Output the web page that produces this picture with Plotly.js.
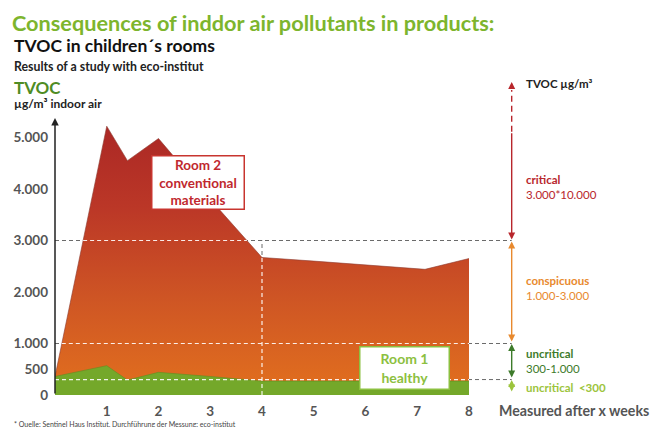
<!DOCTYPE html>
<html>
<head>
<meta charset="utf-8">
<script src="https://cdn.plot.ly/plotly-3.0.1.min.js"></script>
<style>html,body{margin:0;padding:0;background:#fff;}#chart{width:654px;height:427px;}</style>
</head>
<body>
<div id="chart"></div>
<script>
// ---- data ----
const weeks = [0, 1, 1.4, 2, 3, 4, 5, 6, 7.15, 8];
const room2 = [360, 5220, 4550, 4980, 3800, 2670, 2600, 2530, 2440, 2650];
const room1 = [360, 570, 290, 440, 360, 270, 270, 270, 270, 270];
const xTickVals = [1, 2, 3, 4, 5, 6, 7, 8];
const yTickVals = [0, 500, 1000, 2000, 3000, 4000, 5000];
const yTickText = ['0', '500', '1.000', '2.000', '3.000', '4.000', '5.000'];
const levels = [300, 1000, 3000];
const markWeek = 4;
const bandBounds = [0, 300, 1000, 3000, 6080];

// ---- layout constants ----
const W = 654, H = 427, L = 55, T = 75, B = 32;
const pxPerWeek = 51.75, pxPer1000 = 51.5;
const xMax = (W - L) / pxPerWeek;
const yMax = (H - B - T) / pxPer1000 * 1000;
const arrowX = 8.825, labelX = 9.06;
const FONT = 'Lato, sans-serif';

function interp(xs, ys, x) {
  for (let i = 1; i < xs.length; i++) {
    if (x <= xs[i]) return ys[i-1] + (x - xs[i-1]) / (xs[i] - xs[i-1]) * (ys[i] - ys[i-1]);
  }
  return ys[ys.length-1];
}
function aboveSegments(xs, ys, lv) {
  const segs = [];
  let cur = ys[0] >= lv ? xs[0] : null;
  for (let i = 1; i < xs.length; i++) {
    const y0 = ys[i-1], y1 = ys[i];
    if ((y0 < lv) !== (y1 < lv)) {
      const xc = xs[i-1] + (lv - y0) / (y1 - y0) * (xs[i] - xs[i-1]);
      if (cur === null) cur = xc; else { segs.push([cur, xc]); cur = null; }
    }
  }
  if (cur !== null) segs.push([cur, xs[xs.length-1]]);
  return segs;
}

const shapes = [];
const greyLine = {color: '#6b6b6b', width: 1, dash: '4px,3px'};
const whiteLine = {color: 'rgba(255,255,255,0.9)', width: 1.2, dash: '4px,3px'};
levels.forEach(lv => {
  shapes.push({type: 'line', xref: 'x', yref: 'y', x0: 0, x1: arrowX, y0: lv, y1: lv, layer: 'below', line: greyLine});
  aboveSegments(weeks, room2, lv).forEach(s => {
    shapes.push({type: 'line', xref: 'x', yref: 'y', x0: s[0], x1: s[1], y0: lv, y1: lv, layer: 'above', line: whiteLine});
  });
});
shapes.push({type: 'line', xref: 'x', yref: 'y', x0: markWeek, x1: markWeek, y0: 0, y1: 3000, layer: 'below', line: greyLine});
shapes.push({type: 'line', xref: 'x', yref: 'y', x0: markWeek, x1: markWeek, y0: 0, y1: interp(weeks, room2, markWeek), layer: 'above', line: whiteLine});
// dashed part of critical arrow
shapes.push({type: 'line', xref: 'x', yref: 'y', x0: arrowX, x1: arrowX, y0: 5110, y1: 5920, layer: 'above', line: {color: '#b8262c', width: 1.4, dash: '6px,4px'}});

function arrow(x, yHead, yTail, color, side, w) {
  return {x: x, y: yHead, ax: x, ay: yTail, xref: 'x', yref: 'y', axref: 'x', ayref: 'y', text: '',
    showarrow: true, arrowhead: 2, arrowsize: 1, arrowwidth: w || 1.4, arrowcolor: color, arrowside: side,
    startarrowhead: 2, startarrowsize: 1, standoff: 0, startstandoff: 0};
}
function px(x, y) { return {x: (x - L) / (W - L), y: (H - B - y) / (H - B - T)}; }
function txt(text, x, y, size, color, weight, xanchor) {
  const p = px(x, y);
  return {x: p.x, y: p.y, xref: 'paper', yref: 'paper', text: text, showarrow: false,
    xanchor: xanchor || 'left', yanchor: 'middle', align: 'left',
    font: {family: FONT, size: size, color: color, weight: weight || 400}};
}
function bandLabel(y, text, color) {
  return {x: labelX, y: y, xref: 'x', yref: 'y', text: text, showarrow: false, xanchor: 'left', yanchor: 'middle', align: 'left',
    font: {family: FONT, size: 11.5, color: color}};
}

const bandColors = ['#9cc43c', '#3d7b2b', '#e8892e', '#b8262c'];
const annotations = [
  arrow(0, 5380, 0, '#222', 'end', 1.5),
  arrow(8.46, 0, 0, '#222', 'end', 1.5),
  arrow(arrowX, bandBounds[3] + 20, 5110, bandColors[3], 'end'),
  arrow(arrowX, bandBounds[4], 5920, bandColors[3], 'end'),
  arrow(arrowX, bandBounds[3] - 20, bandBounds[2] + 10, bandColors[2], 'end+start'),
  arrow(arrowX, bandBounds[2] - 10, bandBounds[1] + 10, bandColors[1], 'end+start'),
  arrow(arrowX, bandBounds[1] - 10, 40, bandColors[0], 'end+start'),
  {x: labelX, y: 6058, xref: 'x', yref: 'y', text: '<b>TVOC µg/m³</b>', showarrow: false, xanchor: 'left', yanchor: 'middle',
    font: {family: FONT, size: 11.5, color: '#222'}},
  bandLabel(4040, '<b>critical</b><br>3.000*10.000', bandColors[3]),
  bandLabel(2078, '<b>conspicuous</b><br>1.000-3.000', bandColors[2]),
  bandLabel(670, '<b>uncritical</b><br>300-1.000', bandColors[1]),
  bandLabel(155, '<b>uncritical  &lt;300</b>', bandColors[0]),
  {x: 2.763, y: 4126, xref: 'x', yref: 'y', text: 'Room 2<br>conventional<br>materials', showarrow: false,
    bgcolor: '#fff', bordercolor: '#c8352f', borderwidth: 1.5, borderpad: 3, width: 85, height: 46,
    font: {family: FONT, size: 13.5, color: '#c0282e', weight: 700}},
  {x: 6.744, y: 534, xref: 'x', yref: 'y', text: 'Room 1<br>healthy', showarrow: false,
    bgcolor: '#fff', bordercolor: '#8cc040', borderwidth: 1.5, borderpad: 3, width: 82, height: 35,
    font: {family: FONT, size: 14, color: '#8cc040', weight: 700}},
  txt('TVOC in children´s rooms', 12, 45, 17.5, '#111', 700),
  txt('Results of a study with eco-institut', 12, 66, 12.3, '#222', 700),
  txt('TVOC', 12, 87, 17, '#4f8c24', 700),
  txt('µg/m³ indoor air', 12, 103, 12, '#222', 700),
  txt('Measured after x weeks', 497, 410, 14.2, '#555', 700),
  txt('* Quelle: Sentinel Haus Institut, Durchführung der Messung: eco-institut', 12, 424, 7, '#444', 400)
];

const traces = [
  {x: weeks, y: room2, type: 'scatter', mode: 'lines', fill: 'tozeroy', name: 'Room 2',
    line: {color: '#8c3a30', width: 0.6},
    fillgradient: {type: 'vertical', start: 0, stop: 5200,
      colorscale: [[0, '#e2701e'], [0.35, '#cf5624'], [0.7, '#bb3727'], [1, '#ab2825']]},
    hoverinfo: 'skip'},
  {x: weeks, y: room1, type: 'scatter', mode: 'lines', fill: 'tozeroy', name: 'Room 1',
    line: {color: '#5f8f22', width: 0.6}, fillcolor: '#74a82a', hoverinfo: 'skip'}
];

const layout = {
  width: W, height: H,
  margin: {l: L, r: 0, t: T, b: B, pad: 0},
  paper_bgcolor: '#fff', plot_bgcolor: '#fff',
  showlegend: false,
  title: {text: 'Consequences of inddor air pollutants in products:', x: 12 / W, xanchor: 'left', xref: 'container',
    y: 1 - 23 / H, yanchor: 'middle', yref: 'container',
    font: {family: FONT, size: 21.7, color: '#7db52d', weight: 700}},
  xaxis: {range: [0, xMax], showgrid: false, zeroline: false, showline: false, ticks: '',
    tickvals: xTickVals, ticklabelstandoff: 6,
    tickfont: {family: FONT, size: 13.5, color: '#555', weight: 700}},
  yaxis: {range: [0, yMax], showgrid: false, zeroline: false, showline: false, ticks: '',
    tickvals: yTickVals, ticktext: yTickText, ticklabelstandoff: 6,
    tickfont: {family: FONT, size: 13.5, color: '#555', weight: 700}},
  shapes: shapes,
  annotations: annotations
};

Plotly.newPlot('chart', traces, layout, {displayModeBar: false, staticPlot: true});
</script>
</body>
</html>
